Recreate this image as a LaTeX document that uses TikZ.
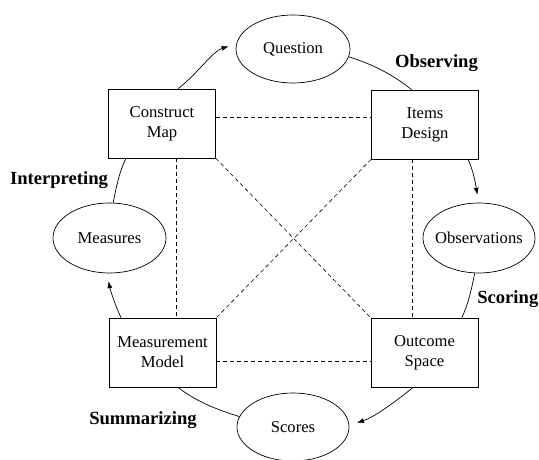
\documentclass[tikz,border=0pt]{standalone}
\usepackage{fontspec}
\setmainfont{Liberation Serif}
\usetikzlibrary{shapes.geometric,arrows.meta}

\tikzset{
  stage/.style={draw, ellipse, inner sep=0pt, line width=0.7pt,
    font=\fontsize{16.6}{20}\selectfont},
  part/.style={draw, rectangle, inner sep=0pt, line width=0.7pt,
    minimum width=107pt, minimum height=69pt, align=center,
    font=\fontsize{16.6}{20}\selectfont},
  phase/.style={font=\fontsize{18.6}{22}\selectfont\bfseries, inner sep=0pt},
  cycle/.style={line width=0.7pt, looseness=0.86},
  cyclearrow/.style={cycle, -{Latex[length=7pt,width=5pt]}, shorten >=8pt},
  link/.style={line width=0.6pt, dash pattern=on 4pt off 3pt}
}

\begin{document}
\begin{tikzpicture}[x=1pt, y=1pt]
  \useasboundingbox (0,0) rectangle (539,460);

  % stages on the outer cycle
  \node[stage, minimum width=114pt, minimum height=68pt] (q)    at (293,411)   {\makebox[0pt]{Question}};
  \node[stage, minimum width=112pt, minimum height=70pt] (obs)  at (479,222)   {\makebox[0pt]{Observations}};
  \node[stage, minimum width=113pt, minimum height=70pt] (meas) at (109.5,222) {\makebox[0pt]{Measures}};
  \node[stage, minimum width=112pt, minimum height=68pt] (sc)   at (293,33)    {\makebox[0pt]{Scores}};

  % the four building blocks
  \node[part] (cm) at (162,336.5)   {Construct\\Map};
  \node[part] (id) at (425,335.5)   {Items\\Design};
  \node[part] (mm) at (162.5,107.5) {Measurement\\Model};
  \node[part] (os) at (424.5,107.5) {Outcome\\Space};

  % phase labels
  \node[phase] (lobs) at (436.5,397) {Observing};
  \node[phase, anchor=east] (lsco) at (538.5,161) {Scoring};
  \node[phase] (lsum) at (143,40)  {Summarizing};
  \node[phase] (lint) at (59,280)  {Interpreting};

  % the cycle, running clockwise
  \draw[cyclearrow] (cm.65)   to[out=38,   in=197]  (q.175);
  \draw[cycle]      (q.-8)    to[out=-17,  in=141]  (id.111);
  \draw[cyclearrow] (id.-39)  to[out=-65,  in=101]  (obs.90);
  \draw[cycle]      (obs.-97) to[out=-101, in=65]   (os.43);
  \draw[cyclearrow] (os.-108) to[out=-141, in=17]   (sc.2);
  \draw[cycle]      (sc.169)  to[out=163,  in=-38]  (mm.-66);
  \draw[cyclearrow] (mm.140)  to[out=115,  in=-79]  (meas.266);
  \draw[cycle]      (meas.84) to[out=79,   in=-116] (cm.224);

  % links between the building blocks
  \draw[link] ([yshift=6.5pt]cm.east)  -- ([yshift=7.5pt]id.west);
  \draw[link] ([yshift=-8.5pt]mm.east) -- ([yshift=-8.5pt]os.west);
  \draw[link] ([xshift=14pt]cm.south)  -- ([xshift=13.5pt]mm.north);
  \draw[link] ([xshift=-12.5pt]id.south) -- ([xshift=-12pt]os.north);
  \draw[link] (cm.south east) -- (os.north west);
  \draw[link] (id.south west) -- (mm.north east);
\end{tikzpicture}
\end{document}
